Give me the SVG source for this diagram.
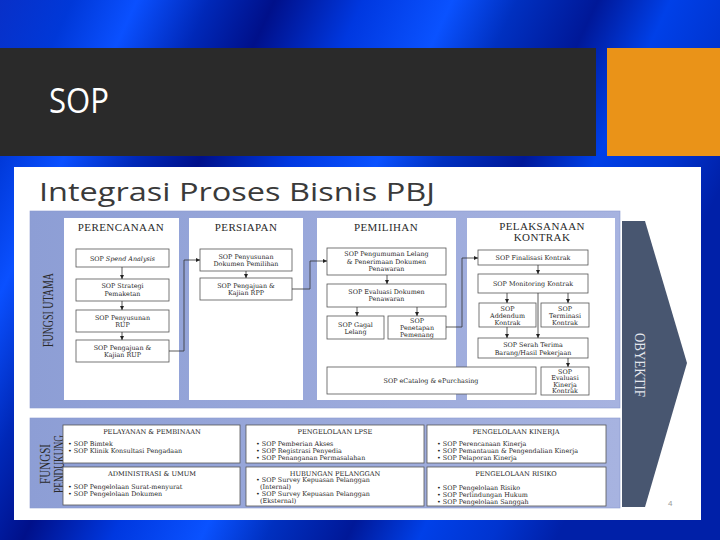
<svg xmlns="http://www.w3.org/2000/svg" width="720" height="540" viewBox="0 0 720 540">
<defs>
<linearGradient id="bg" x1="0" y1="0" x2="1" y2="0.35">
<stop offset="0" stop-color="#0830c8"/>
<stop offset="0.09" stop-color="#0038d8"/>
<stop offset="0.17" stop-color="#0a50ff"/>
<stop offset="0.26" stop-color="#0028b8"/>
<stop offset="0.34" stop-color="#00108a"/>
<stop offset="0.45" stop-color="#0038e0"/>
<stop offset="0.56" stop-color="#0a52ff"/>
<stop offset="0.64" stop-color="#0030c0"/>
<stop offset="0.74" stop-color="#001898"/>
<stop offset="0.83" stop-color="#0040e8"/>
<stop offset="0.92" stop-color="#0034d0"/>
<stop offset="1" stop-color="#0020a8"/>
</linearGradient>
<linearGradient id="pw" x1="0" y1="0" x2="1" y2="0">
<stop offset="0" stop-color="#8d9ed5"/>
<stop offset="1" stop-color="#a7b3e0"/>
</linearGradient>
<marker id="ah" viewBox="0 0 6 6" refX="6" refY="3" markerWidth="4.5" markerHeight="4.5" orient="auto" markerUnits="userSpaceOnUse">
<path d="M0,0 L6,3 L0,6 Z" fill="#222"/>
</marker>
<style>
.bx{fill:#fff;stroke:#555;stroke-width:0.8}
.col{fill:#fff}
.t{font-family:"DejaVu Serif",serif;font-size:6.4px;fill:#1e1e1e;text-anchor:middle}
.h{font-family:"Liberation Serif",serif;font-size:11px;fill:#2a2a2a;text-anchor:middle;letter-spacing:0.4px}
.bh{font-family:"DejaVu Serif",serif;font-size:6.6px;fill:#222;text-anchor:middle}
.bl{font-family:"DejaVu Serif",serif;font-size:6.4px;fill:#1e1e1e}
.c{fill:none;stroke:#333;stroke-width:0.8;marker-end:url(#ah)}
.side{font-family:"Liberation Serif",serif;fill:#2a2a2a;text-anchor:middle}
</style>
</defs>

<rect x="0" y="0" width="720" height="540" fill="url(#bg)"/>
<rect x="0" y="48" width="596" height="108" fill="#2a2a2a"/>
<rect x="607" y="48" width="113" height="108" fill="#ea9318"/>
<text x="49" y="113" font-family="Open Sans, sans-serif" font-size="34" fill="#fff" textLength="60" lengthAdjust="spacingAndGlyphs">SOP</text>

<rect x="14" y="167" width="687" height="353" fill="#fff"/>
<text x="39" y="201" font-family="Open Sans, sans-serif" font-size="26" fill="#3a3a3a" textLength="396" lengthAdjust="spacingAndGlyphs">Integrasi Proses Bisnis PBJ</text>

<rect x="30" y="211" width="590" height="197" fill="url(#pw)" stroke="#8a9acf" stroke-width="0.6"/>
<rect x="30" y="418" width="590" height="90" fill="url(#pw)" stroke="#8a9acf" stroke-width="0.6"/>

<text class="side" transform="translate(52.5,310) rotate(-90)" font-size="15" textLength="74" lengthAdjust="spacingAndGlyphs">FUNGSI UTAMA</text>
<text class="side" transform="translate(50,464) rotate(-90)" font-size="14" textLength="40" lengthAdjust="spacingAndGlyphs">FUNGSI</text>
<text class="side" transform="translate(63.5,464) rotate(-90)" font-size="14" textLength="58" lengthAdjust="spacingAndGlyphs">PENDUKUNG</text>

<g id="obyektif">
<path d="M622,221 L645,221 L687,363 L645,507 L622,507 Z" fill="#485670"/>
<text transform="translate(635,365) rotate(90)" font-family="Liberation Serif, serif" font-size="14" fill="#e4e7ee" text-anchor="middle" textLength="64" lengthAdjust="spacingAndGlyphs">OBYEKTIF</text>
</g>
<text x="668" y="506" font-family="Liberation Sans, sans-serif" font-size="8" fill="#999">4</text>

<g id="perencanaan">
<rect class="col" x="64" y="218" width="115" height="182"/>
<text class="h" x="121" y="231">PERENCANAAN</text>
</g>
<g id="persiapan">
<rect class="col" x="189" y="218" width="114" height="182"/>
<text class="h" x="246" y="231">PERSIAPAN</text>
</g>
<g id="pemilihan">
<rect class="col" x="317" y="218" width="139" height="182"/>
<text class="h" x="386" y="231">PEMILIHAN</text>
</g>
<g id="pelaksanaan">
<rect class="col" x="467" y="218" width="148" height="182"/>
<text class="h" x="542" y="230">PELAKSANAAN</text>
<text class="h" x="542" y="241">KONTRAK</text>
</g>

<g id="spend"><rect class="bx" x="76" y="249" width="93" height="18"/><text class="t" x="122.5" y="260.5">SOP <tspan font-style="italic">Spend Analysis</tspan></text></g>
<g id="strategi"><rect class="bx" x="76" y="279" width="93" height="22"/><text class="t" x="122.5" y="288">SOP Strategi</text><text class="t" x="122.5" y="296">Pemaketan</text></g>
<g id="penyusunan-rup"><rect class="bx" x="76" y="310" width="93" height="22"/><text class="t" x="122.5" y="320">SOP Penyusunan</text><text class="t" x="122.5" y="327">RUP</text></g>
<g id="pengajuan-rup"><rect class="bx" x="76" y="340" width="93" height="22"/><text class="t" x="122.5" y="349.5">SOP Pengajuan &amp;</text><text class="t" x="122.5" y="357">Kajian RUP</text></g>

<g id="penyusunan-dok"><rect class="bx" x="200" y="249" width="92" height="22"/><text class="t" x="246" y="258.5">SOP Penyusunan</text><text class="t" x="246" y="266">Dokumen Pemilihan</text></g>
<g id="pengajuan-rpp"><rect class="bx" x="200" y="278" width="92" height="22"/><text class="t" x="246" y="287.5">SOP Pengajuan  &amp;</text><text class="t" x="246" y="295">Kajian RPP</text></g>

<g id="pengumuman"><rect class="bx" x="327" y="248" width="119" height="27"/><text class="t" x="386.5" y="256">SOP Pengumuman Lelang</text><text class="t" x="386.5" y="263.5">&amp; Penerimaan Dokumen</text><text class="t" x="386.5" y="271">Penawaran</text></g>
<g id="evaluasi-dok"><rect class="bx" x="327" y="284" width="119" height="23"/><text class="t" x="386.5" y="294">SOP Evaluasi Dokumen</text><text class="t" x="386.5" y="301">Penawaran</text></g>
<g id="gagal"><rect class="bx" x="327" y="316" width="57" height="23"/><text class="t" x="355.5" y="326.5">SOP Gagal</text><text class="t" x="355.5" y="334">Lelang</text></g>
<g id="penetapan"><rect class="bx" x="388" y="316" width="58" height="23"/><text class="t" x="417" y="323">SOP</text><text class="t" x="417" y="330">Penetapan</text><text class="t" x="417" y="337">Pemenang</text></g>

<g id="finalisasi"><rect class="bx" x="478" y="250" width="110" height="15"/><text class="t" x="533" y="259.5">SOP Finalisasi Kontrak</text></g>
<g id="monitoring"><rect class="bx" x="478" y="274" width="110" height="19"/><text class="t" x="533" y="285.5">SOP Monitoring Kontrak</text></g>
<g id="addendum"><rect class="bx" x="479" y="303" width="57" height="24"/><text class="t" x="507.5" y="310.5">SOP</text><text class="t" x="507.5" y="317.5">Addendum</text><text class="t" x="507.5" y="324.5">Kontrak</text></g>
<g id="terminasi"><rect class="bx" x="541" y="303" width="48" height="24"/><text class="t" x="565" y="310.5">SOP</text><text class="t" x="565" y="317.5">Terminasi</text><text class="t" x="565" y="324.5">Kontrak</text></g>
<g id="serah"><rect class="bx" x="478" y="338" width="110" height="20"/><text class="t" x="533" y="347">SOP Serah Terima</text><text class="t" x="533" y="355">Barang/Hasil Pekerjaan</text></g>
<g id="ecatalog"><rect class="bx" x="327" y="367" width="209" height="27"/><text class="t" x="431" y="382.5">SOP eCatalog &amp; ePurchasing</text></g>
<g id="evaluasi-kinerja"><rect class="bx" x="541" y="367" width="48" height="28"/><text class="t" x="565" y="373.5">SOP</text><text class="t" x="565" y="380">Evaluasi</text><text class="t" x="565" y="386.5">Kinerja</text><text class="t" x="565" y="393">Kontrak</text></g>

<g id="connectors">
<path class="c" d="M122,267 V279"/>
<path class="c" d="M122,301 V310"/>
<path class="c" d="M122,332 V340"/>
<path class="c" d="M169,351 H184 V260 H200"/>
<path class="c" d="M246,271 V278"/>
<path class="c" d="M292,289 H310 V261 H327"/>
<path class="c" d="M387,275 V284"/>
<path class="c" d="M357,307 V316"/>
<path class="c" d="M417,307 V316"/>
<path class="c" d="M446,327 H462 V258 H478"/>
<path class="c" d="M538,265 V274"/>
<path class="c" d="M507,293 V303"/>
<path class="c" d="M568,293 V303"/>
<path class="c" d="M538,293 V338"/>
<path class="c" d="M507,327 V338"/>
<path class="c" d="M568,358 V367"/>
</g>

<g id="pelayanan"><rect class="bx" x="63" y="425" width="177" height="38"/><text class="bh" x="152" y="433.5">PELAYANAN &amp; PEMBINAAN</text><text class="bl" x="68" y="446">• SOP Bimtek</text><text class="bl" x="68" y="453">• SOP Klinik Konsultasi Pengadaan</text></g>
<g id="admin"><rect class="bx" x="63" y="467" width="177" height="38"/><text class="bh" x="152" y="475.5">ADMINISTRASI &amp; UMUM</text><text class="bl" x="68" y="489">• SOP Pengelolaan Surat-menyurat</text><text class="bl" x="68" y="496">• SOP Pengelolaan Dokumen</text></g>
<g id="lpse"><rect class="bx" x="246" y="425" width="178" height="38"/><text class="bh" x="335" y="434">PENGELOLAAN LPSE</text><text class="bl" x="256" y="446">• SOP Pemberian Akses</text><text class="bl" x="256" y="453">• SOP Registrasi Penyedia</text><text class="bl" x="256" y="460">• SOP Penanganan Permasalahan</text></g>
<g id="hubungan"><rect class="bx" x="246" y="467" width="178" height="39"/><text class="bh" x="335" y="475.5">HUBUNGAN PELANGGAN</text><text class="bl" x="256" y="482">• SOP Survey Kepuasan Pelanggan</text><text class="bl" x="260" y="489"> (Internal)</text><text class="bl" x="256" y="496">• SOP Survey Kepuasan Pelanggan</text><text class="bl" x="260" y="503"> (Eksternal)</text></g>
<g id="kinerja"><rect class="bx" x="427" y="425" width="179" height="38"/><text class="bh" x="516" y="434">PENGELOLAAN KINERJA</text><text class="bl" x="437" y="446">• SOP Perencanaan Kinerja</text><text class="bl" x="437" y="453">• SOP Pemantauan &amp; Pengendalian Kinerja</text><text class="bl" x="437" y="460">• SOP Pelaporan Kinerja</text></g>
<g id="risiko"><rect class="bx" x="427" y="467" width="179" height="39"/><text class="bh" x="516" y="476">PENGELOLAAN RISIKO</text><text class="bl" x="437" y="490">• SOP Pengelolaan Risiko</text><text class="bl" x="437" y="497">• SOP Perlindungan Hukum</text><text class="bl" x="437" y="504">• SOP Pengelolaan Sanggah</text></g>
</svg>
